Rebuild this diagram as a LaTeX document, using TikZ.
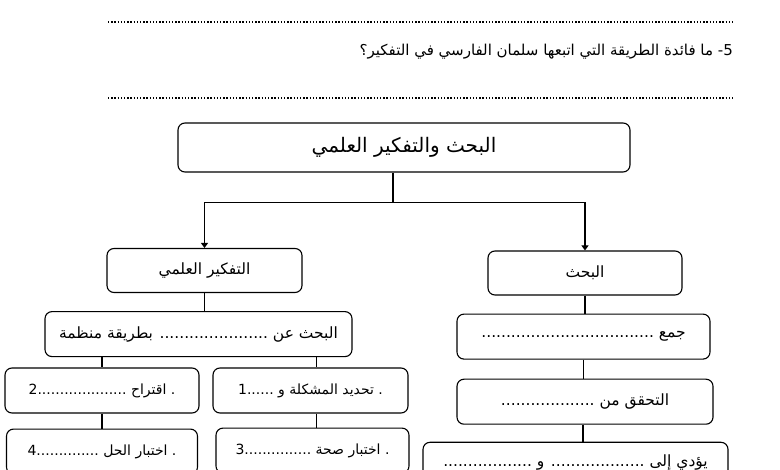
\documentclass[tikz,border=0pt]{standalone}
\usepackage{fontspec}
\newfontfamily\arabicfont[Script=Arabic]{DejaVu Sans}
\TeXXeTstate=1
\usetikzlibrary{arrows.meta, positioning}
\tikzset{
    base/.style = {
        draw=black, line width=1.1pt, rounded corners=7pt, align=center,
        inner sep=0pt, font=\arabicfont\fontsize{15.5}{18}\selectfont
    },
    % Boxes
    headbox/.style  = {base, minimum width=452pt, minimum height=49pt, font=\arabicfont\fontsize{20}{24}\selectfont},
    topic/.style    = {base, minimum width=195pt, minimum height=44pt},
    fieldbox/.style = {base, minimum width=255pt, minimum height=45pt},
    stepbox/.style  = {base, minimum width=194pt, minimum height=45pt, font=\arabicfont\fontsize{14}{17}\selectfont},
    % Lines
    arrow/.style = {line width=1.1pt, -{Triangle[length=5pt, width=7pt]}},
    link/.style  = {line width=1.1pt},
    answerline/.style = {line width=1.3pt, dash pattern=on 1.3pt off 1.9pt},
    question/.style = {font=\arabicfont\fontsize{15}{18}\selectfont, inner sep=0pt}
}

\begin{document}
\begin{tikzpicture}[x=1pt, y=-1pt]
    \useasboundingbox (0,0) rectangle (780,470);
    \clip (0,0) rectangle (780,470);

    % Question with its answer lines
    \draw [answerline] (108,22) -- (733,22);
    \node (ask) [question, anchor=east] at (733,52)
        {\beginR\beginL-\kern0pt 5\endL{} ما فائدة الطريقة التي اتبعها سلمان الفارسي في التفكير؟\endR};
    \draw [answerline] (108,98) -- (733,98);

    % Main title and the two branches
    \node (title) [headbox] at (404,147.5) {\beginR البحث والتفكير العلمي\endR};
    \node (thinking) [topic] at (204.5,270.5) {\beginR التفكير العلمي\endR};
    \node (research) [topic, minimum width=194pt] at (585,273) {\beginR البحث\endR};

    % Scientific thinking side
    \node (method) [fieldbox, minimum width=307pt, below=18pt of thinking, xshift=-6pt]
        {\beginR البحث عن ...................... بطريقة منظمة\endR};
    \node (step2) [stepbox] at (102,390.5) {\beginR .\ اقتراح \beginL 2\kern0pt....................\endL\endR};
    \node (step1) [stepbox, minimum width=195pt] at (310.5,390.5) {\beginR .\ تحديد المشكلة و \beginL 1\kern0pt......\endL\endR};
    \node (step4) [stepbox, minimum width=191pt, below=15pt of step2] {\beginR .\ اختبار الحل \beginL 4\kern0pt..............\endL\endR};
    \node (step3) [stepbox, minimum width=193pt, below=14pt of step1, xshift=2pt] {\beginR .\ اختبار صحة \beginL 3\kern0pt...............\endL\endR};

    % Research side
    \node (collect) [fieldbox, minimum width=253pt, below=18pt of research, xshift=-1.5pt]
        {\beginR جمع ...................................\endR};
    \node (verify) [fieldbox, minimum width=256pt, below=19pt of collect, xshift=1.5pt]
        {\beginR التحقق من ...................\endR};
    \node (leads) [fieldbox, minimum width=305pt, minimum height=40pt, below=17pt of verify, xshift=-9.5pt]
        {\beginR يؤدي إلى ................... و ..................\endR};

    % Connectors
    \draw [link] ([xshift=-11pt]title.south) -- ++(0,30) coordinate (split);
    \draw [arrow] (split) -| (thinking.north);
    \draw [arrow] (split) -| (research.north);

    \draw [link] (thinking.south) -- (thinking.south |- method.north);
    \draw [link] (method.south -| step2.north) -- (step2.north);
    \draw [link] ([xshift=6pt]step1.north |- method.south) -- ([xshift=6pt]step1.north);
    \draw [link] (step2.south) -- (step2.south |- step4.north);
    \draw [link] ([xshift=6pt]step1.south) -- ([xshift=6pt]step1.south |- step3.north);

    \draw [link] (research.south) -- (research.south |- collect.north);
    \draw [link] (collect.south) -- (collect.south |- verify.north);
    \draw [link] ([xshift=-2pt]verify.south) -- ([xshift=-2pt]verify.south |- leads.north);
\end{tikzpicture}
\end{document}
